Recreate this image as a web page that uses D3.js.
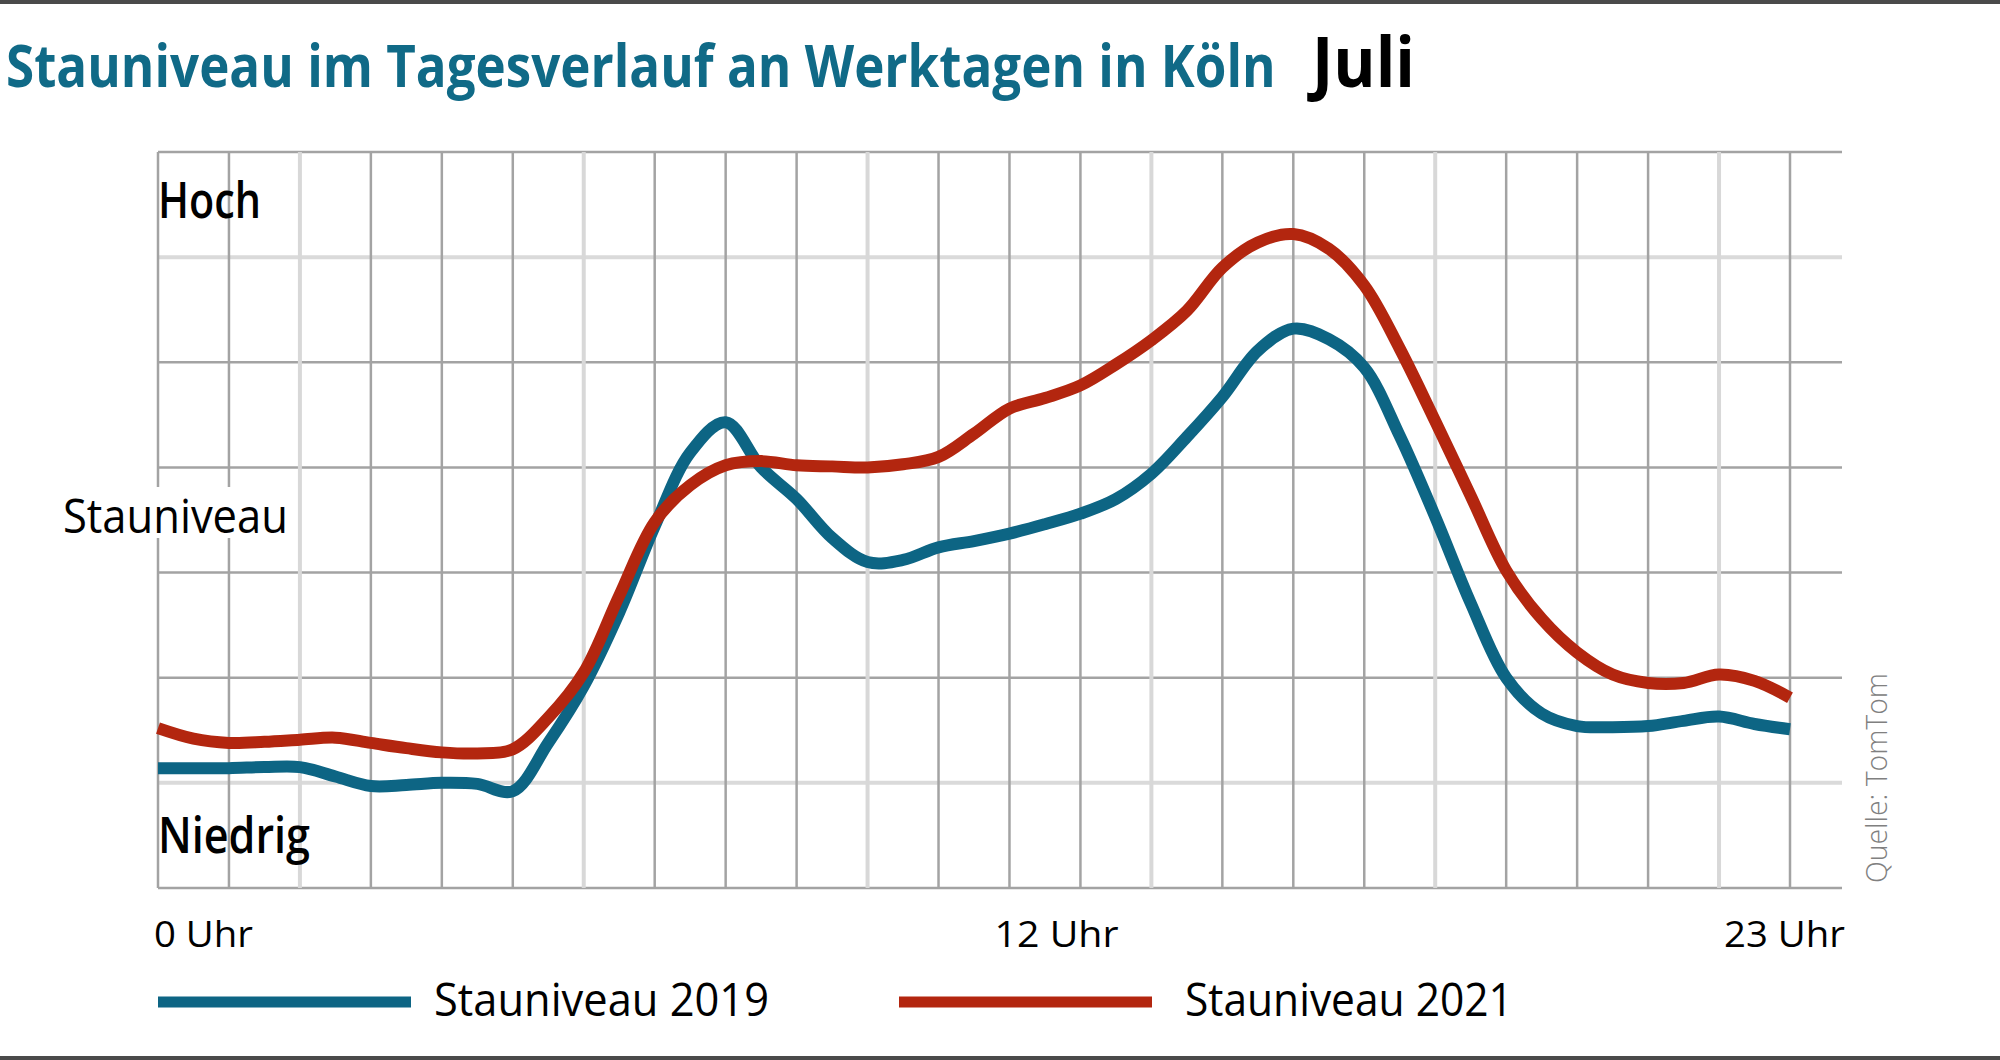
<!DOCTYPE html>
<html>
<head>
<meta charset="utf-8">
<script src="https://cdn.jsdelivr.net/npm/d3@7"></script>
<style>
  html, body { margin: 0; padding: 0; background: #fff; }
  svg { display: block; font-family: "Open Sans", "Noto Sans", sans-serif; }
</style>
</head>
<body>
<div id="chart"></div>
<script>
const hours = d3.range(0, 23.01, 0.5);

// Stauniveau 2019 (0 = Niedrig ... 7 = Hoch)
const stau2019 = [
  1.14, 1.14, 1.14, 1.15, 1.15, 1.06, 0.97, 0.98, 1.00, 0.99,
  0.92, 1.38, 1.92, 2.62, 3.44, 4.14, 4.43, 4.00, 3.70, 3.33,
  3.10, 3.12, 3.24, 3.30, 3.37, 3.46, 3.56, 3.70, 3.94, 4.29,
  4.67, 5.11, 5.32, 5.22, 4.95, 4.30, 3.53, 2.71, 2.00, 1.66,
  1.54, 1.53, 1.54, 1.59, 1.63, 1.56, 1.51
];

// Stauniveau 2021
const stau2021 = [
  1.52, 1.42, 1.38, 1.39, 1.41, 1.43, 1.38, 1.33, 1.29, 1.28,
  1.32, 1.62, 2.05, 2.78, 3.48, 3.83, 4.02, 4.06, 4.02, 4.01,
  4.00, 4.03, 4.10, 4.32, 4.56, 4.66, 4.78, 4.98, 5.21, 5.49,
  5.90, 6.14, 6.22, 6.08, 5.73, 5.13, 4.44, 3.73, 3.02, 2.56,
  2.24, 2.03, 1.95, 1.95, 2.03, 1.97, 1.81
];

const tickHours = [0, 12, 23];
const tickLabels = ["0 Uhr", "12 Uhr", "23 Uhr"];
const seriesNames = ["Stauniveau 2019", "Stauniveau 2021"];
const seriesColors = ["#0d6584", "#b3260f"];

const width = 2000, height = 1060;

const svg = d3.select("#chart")
  .append("svg")
  .attr("width", width)
  .attr("height", height);

const x = d3.scaleLinear().domain([0, 23]).range([158, 1790]);
const y = d3.scaleLinear().domain([0, 7]).range([888, 152]);

// Text horizontal auf eine Breite stauchen (schmale Schrift nachbilden)
function addText(px, py, str, size, weight, targetW, anchor) {
  const t = svg.append("text")
    .attr("text-anchor", anchor || "start")
    .style("font-size", size + "px")
    .style("font-weight", weight)
    .text(str);
  const w = t.node().getComputedTextLength();
  const s = targetW / w;
  t.attr("transform", `translate(${px}, ${py}) scale(${s}, 1)`);
  return t;
}

// Rahmenlinien oben und unten
svg.append("rect").attr("x", 0).attr("y", 0).attr("width", width).attr("height", 4).attr("fill", "#4a4a4a");
svg.append("rect").attr("x", 0).attr("y", height - 4).attr("width", width).attr("height", 4).attr("fill", "#4a4a4a");

// Titel
addText(6, 87, "Stauniveau im Tagesverlauf an Werktagen in Köln", 60, 700, 1270)
  .attr("fill", "#106a87");
addText(1312, 87, "Juli", 70, 700, 103).attr("fill", "#000");

// Gitter
const grid = svg.append("g");
const lightV = h => h % 4 === 2;
const lightH = v => v === 1 || v === 6;

grid.selectAll(".hline")
  .data(d3.range(0, 8))
  .enter()
  .append("line")
  .attr("class", "hline")
  .attr("x1", x(0))
  .attr("x2", x(23) + 52)
  .attr("y1", d => y(d))
  .attr("y2", d => y(d))
  .attr("stroke", d => lightH(d) ? "#dadada" : "#a3a3a3")
  .attr("stroke-width", d => lightH(d) ? 4 : 2.5);

grid.selectAll(".vline")
  .data(d3.range(0, 24))
  .enter()
  .append("line")
  .attr("class", "vline")
  .attr("x1", d => x(d))
  .attr("x2", d => x(d))
  .attr("y1", y(7))
  .attr("y2", y(0))
  .attr("stroke", d => lightV(d) ? "#d8d8d8" : "#a3a3a3")
  .attr("stroke-width", d => lightV(d) ? 4 : 2.5);

// Achsenbeschriftung links
addText(x(0), 218, "Hoch", 50, 600, 103);
addText(x(0), 853, "Niedrig", 50, 600, 152);

svg.append("rect")
  .attr("x", 56)
  .attr("y", 487)
  .attr("width", 240)
  .attr("height", 51)
  .attr("fill", "#fff");
addText(63, 533, "Stauniveau", 48, 400, 225);

// X-Achse Beschriftung
const tickPos = [
  { anchor: "start", dx: -4, len: 99 },
  { anchor: "start", dx: -15, len: 124 },
  { anchor: "end", dx: 55, len: 121 }
];
tickHours.forEach((h, i) => {
  addText(x(h) + tickPos[i].dx, 947, tickLabels[i], 36, 500, tickPos[i].len, tickPos[i].anchor);
});

// Quelle
const q = svg.append("text")
  .attr("fill", "#808080")
  .style("font-size", "30px")
  .style("font-weight", 300)
  .text("Quelle: TomTom");
const qs = 210 / q.node().getComputedTextLength();
q.attr("transform", `translate(1887, 883) rotate(-90) scale(${qs}, 1)`);

// Linien
const line = d3.line()
  .x((d, i) => x(hours[i]))
  .y(d => y(d))
  .curve(d3.curveCatmullRom.alpha(0.5));

[stau2019, stau2021].forEach((series, k) => {
  svg.append("path")
    .datum(series)
    .attr("d", line)
    .attr("fill", "none")
    .attr("stroke", seriesColors[k])
    .attr("stroke-width", 12)
    .attr("stroke-linejoin", "round");
});

// Legende
const legendX = [158, 899];
const legendTextX = [434, 1185];
const legendLen = [335, 328];
seriesNames.forEach((name, k) => {
  svg.append("line")
    .attr("x1", legendX[k])
    .attr("x2", legendX[k] + 253)
    .attr("y1", 1002)
    .attr("y2", 1002)
    .attr("stroke", seriesColors[k])
    .attr("stroke-width", 11);
  addText(legendTextX[k], 1016, name, 46, 500, legendLen[k]);
});
</script>
</body>
</html>
